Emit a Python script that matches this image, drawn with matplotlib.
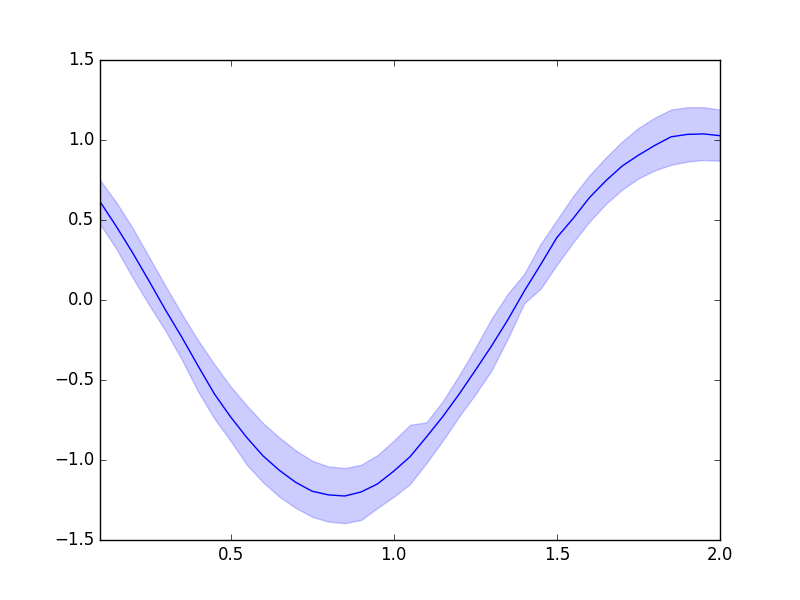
import matplotlib
matplotlib.use("Agg")
import matplotlib.pyplot as plt
import numpy as np

plt.style.use("classic")

# sample positions
x = np.round(np.arange(0.10, 2.001, 0.05), 2)

# mean curve
mean = [0.615, 0.46, 0.295, 0.12, -0.06, -0.23, -0.41, -0.585, -0.73, -0.86,
        -0.975, -1.065, -1.14, -1.195, -1.218, -1.225, -1.20, -1.15, -1.07, -0.98,
        -0.857, -0.73, -0.59, -0.44, -0.287, -0.123, 0.055, 0.22, 0.39, 0.51,
        0.64, 0.745, 0.837, 0.905, 0.966, 1.02, 1.035, 1.038, 1.027]

# upper / lower edges of the band
upper = [0.75, 0.61, 0.45, 0.27, 0.09, -0.085, -0.25, -0.40, -0.54, -0.66,
         -0.77, -0.86, -0.94, -1.005, -1.04, -1.05, -1.03, -0.97, -0.88, -0.78,
         -0.765, -0.634, -0.473, -0.30, -0.116, 0.04, 0.163, 0.35, 0.50, 0.65,
         0.78, 0.89, 0.99, 1.075, 1.14, 1.19, 1.205, 1.205, 1.19]
lower = [0.475, 0.32, 0.14, -0.03, -0.19, -0.37, -0.57, -0.74, -0.88, -1.03,
         -1.14, -1.23, -1.30, -1.355, -1.385, -1.395, -1.375, -1.30, -1.23, -1.15,
         -1.02, -0.88, -0.73, -0.59, -0.44, -0.24, -0.02, 0.07, 0.22, 0.36,
         0.49, 0.60, 0.69, 0.76, 0.81, 0.845, 0.865, 0.875, 0.87]

fig, ax = plt.subplots(figsize=(8, 6), dpi=100)
fig.patch.set_facecolor("white")

ax.fill_between(x, lower, upper, color="blue", alpha=0.2)
ax.plot(x, mean, color="blue", linewidth=1.0)

ax.set_xlim(0.1, 2.0)
ax.set_ylim(-1.5, 1.5)
ax.set_xticks([0.5, 1.0, 1.5, 2.0])
ax.set_yticks([-1.5, -1.0, -0.5, 0.0, 0.5, 1.0, 1.5])

plt.savefig("out.png", dpi=100, facecolor="white")
